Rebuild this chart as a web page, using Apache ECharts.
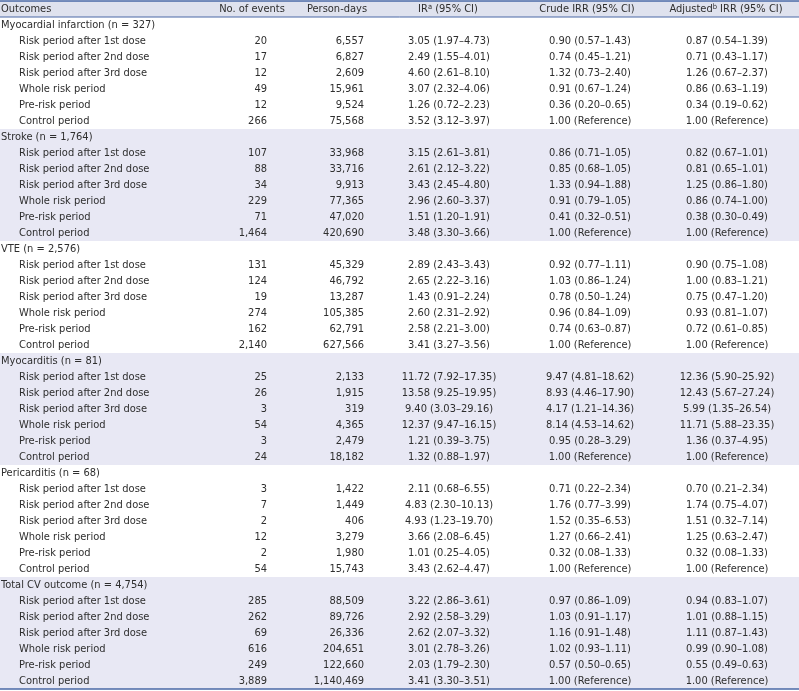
<!DOCTYPE html>
<html><head><meta charset="utf-8">
<script src="https://cdn.jsdelivr.net/npm/echarts@6/dist/echarts.min.js"></script>
<style>html,body{margin:0;padding:0;background:#fff}#c{width:799px;height:691px}</style>
</head><body><div id="c"></div>
<script>
const headers = ['Outcomes', 'No. of events', 'Person-days', 'IR{sup|a} (95% CI)', 'Crude IRR (95% CI)', 'Adjusted{sup|b} IRR (95% CI)'];
const outcomes = ['Myocardial infarction (n = 327)', 'Stroke (n = 1,764)', 'VTE (n = 2,576)', 'Myocarditis (n = 81)', 'Pericarditis (n = 68)', 'Total CV outcome (n = 4,754)'];
const periods = ['Risk period after 1st dose', 'Risk period after 2nd dose', 'Risk period after 3rd dose', 'Whole risk period', 'Pre-risk period', 'Control period'];
const events = [
  ['20', '17', '12', '49', '12', '266'],
  ['107', '88', '34', '229', '71', '1,464'],
  ['131', '124', '19', '274', '162', '2,140'],
  ['25', '26', '3', '54', '3', '24'],
  ['3', '7', '2', '12', '2', '54'],
  ['285', '262', '69', '616', '249', '3,889']
];
const personDays = [
  ['6,557', '6,827', '2,609', '15,961', '9,524', '75,568'],
  ['33,968', '33,716', '9,913', '77,365', '47,020', '420,690'],
  ['45,329', '46,792', '13,287', '105,385', '62,791', '627,566'],
  ['2,133', '1,915', '319', '4,365', '2,479', '18,182'],
  ['1,422', '1,449', '406', '3,279', '1,980', '15,743'],
  ['88,509', '89,726', '26,336', '204,651', '122,660', '1,140,469']
];
const irCI = [
  ['3.05 (1.97–4.73)', '2.49 (1.55–4.01)', '4.60 (2.61–8.10)', '3.07 (2.32–4.06)', '1.26 (0.72–2.23)', '3.52 (3.12–3.97)'],
  ['3.15 (2.61–3.81)', '2.61 (2.12–3.22)', '3.43 (2.45–4.80)', '2.96 (2.60–3.37)', '1.51 (1.20–1.91)', '3.48 (3.30–3.66)'],
  ['2.89 (2.43–3.43)', '2.65 (2.22–3.16)', '1.43 (0.91–2.24)', '2.60 (2.31–2.92)', '2.58 (2.21–3.00)', '3.41 (3.27–3.56)'],
  ['11.72 (7.92–17.35)', '13.58 (9.25–19.95)', '9.40 (3.03–29.16)', '12.37 (9.47–16.15)', '1.21 (0.39–3.75)', '1.32 (0.88–1.97)'],
  ['2.11 (0.68–6.55)', '4.83 (2.30–10.13)', '4.93 (1.23–19.70)', '3.66 (2.08–6.45)', '1.01 (0.25–4.05)', '3.43 (2.62–4.47)'],
  ['3.22 (2.86–3.61)', '2.92 (2.58–3.29)', '2.62 (2.07–3.32)', '3.01 (2.78–3.26)', '2.03 (1.79–2.30)', '3.41 (3.30–3.51)']
];
const crudeCI = [
  ['0.90 (0.57–1.43)', '0.74 (0.45–1.21)', '1.32 (0.73–2.40)', '0.91 (0.67–1.24)', '0.36 (0.20–0.65)', '1.00 (Reference)'],
  ['0.86 (0.71–1.05)', '0.85 (0.68–1.05)', '1.33 (0.94–1.88)', '0.91 (0.79–1.05)', '0.41 (0.32–0.51)', '1.00 (Reference)'],
  ['0.92 (0.77–1.11)', '1.03 (0.86–1.24)', '0.78 (0.50–1.24)', '0.96 (0.84–1.09)', '0.74 (0.63–0.87)', '1.00 (Reference)'],
  ['9.47 (4.81–18.62)', '8.93 (4.46–17.90)', '4.17 (1.21–14.36)', '8.14 (4.53–14.62)', '0.95 (0.28–3.29)', '1.00 (Reference)'],
  ['0.71 (0.22–2.34)', '1.76 (0.77–3.99)', '1.52 (0.35–6.53)', '1.27 (0.66–2.41)', '0.32 (0.08–1.33)', '1.00 (Reference)'],
  ['0.97 (0.86–1.09)', '1.03 (0.91–1.17)', '1.16 (0.91–1.48)', '1.02 (0.93–1.11)', '0.57 (0.50–0.65)', '1.00 (Reference)']
];
const adjustedCI = [
  ['0.87 (0.54–1.39)', '0.71 (0.43–1.17)', '1.26 (0.67–2.37)', '0.86 (0.63–1.19)', '0.34 (0.19–0.62)', '1.00 (Reference)'],
  ['0.82 (0.67–1.01)', '0.81 (0.65–1.01)', '1.25 (0.86–1.80)', '0.86 (0.74–1.00)', '0.38 (0.30–0.49)', '1.00 (Reference)'],
  ['0.90 (0.75–1.08)', '1.00 (0.83–1.21)', '0.75 (0.47–1.20)', '0.93 (0.81–1.07)', '0.72 (0.61–0.85)', '1.00 (Reference)'],
  ['12.36 (5.90–25.92)', '12.43 (5.67–27.24)', '5.99 (1.35–26.54)', '11.71 (5.88–23.35)', '1.36 (0.37–4.95)', '1.00 (Reference)'],
  ['0.70 (0.21–2.34)', '1.74 (0.75–4.07)', '1.51 (0.32–7.14)', '1.25 (0.63–2.47)', '0.32 (0.08–1.33)', '1.00 (Reference)'],
  ['0.94 (0.83–1.07)', '1.01 (0.88–1.15)', '1.11 (0.87–1.43)', '0.99 (0.90–1.08)', '0.55 (0.49–0.63)', '1.00 (Reference)']
];
const shadedGroups = [1, 3, 5];

// ---- font choice: DejaVu Sans Condensed if installed, else DejaVu Sans squeezed ----
const probe = document.createElement('canvas').getContext('2d');
probe.font = '20px "DejaVu Sans Condensed", monospace';
const wCond = probe.measureText('Risk period abc').width;
probe.font = '20px monospace';
const wMono = probe.measureText('Risk period abc').width;
const hasCond = Math.abs(wCond - wMono) > 0.5;
const FAMILY = hasCond ? '"DejaVu Sans Condensed"' : '"DejaVu Sans"';
const SCALE_X = hasCond ? 1 : 0.9;

// ---- layout (styles / positions only) ----
const W = 799;
const FONT = '11px ' + FAMILY;
const TEXT = '#2e2e2e';
const LINE = '#4a68a6';
const HEAD_BG = '#dfe2ee';
const BAND_BG = '#e8e8f4';
const colLayout = [
  { x: 1, align: 'left', headX: 1, headAlign: 'left' },
  { x: 267, align: 'right', headX: 252, headAlign: 'center' },
  { x: 364, align: 'right', headX: 337, headAlign: 'center' },
  { x: 449, align: 'center', headX: 448, headAlign: 'center' },
  { x: 590, align: 'center', headX: 587, headAlign: 'center' },
  { x: 727, align: 'center', headX: 726, headAlign: 'center' }
];
const INDENT = 18;

// ---- build cells ----
const cells = [];
const rowCats = ['h'];
const rowBg = [{ value: W, itemStyle: { color: HEAD_BG } }];
headers.forEach((t, c) => cells.push({ value: [c, 0], text: t, kind: 'head' }));
let row = 1;
outcomes.forEach((name, g) => {
  const shaded = shadedGroups.includes(g);
  rowCats.push('g' + g);
  rowBg.push(shaded ? { value: W, itemStyle: { color: BAND_BG } } : '-');
  cells.push({ value: [0, row], text: name, kind: 'group' });
  row++;
  periods.forEach((p, i) => {
    rowCats.push('g' + g + 'p' + i);
    rowBg.push(shaded ? { value: W, itemStyle: { color: BAND_BG } } : '-');
    cells.push({ value: [0, row], text: p, kind: 'period' });
    cells.push({ value: [1, row], text: events[g][i], kind: 'cell' });
    cells.push({ value: [2, row], text: personDays[g][i], kind: 'cell' });
    cells.push({ value: [3, row], text: irCI[g][i], kind: 'cell' });
    cells.push({ value: [4, row], text: crudeCI[g][i], kind: 'cell' });
    cells.push({ value: [5, row], text: adjustedCI[g][i], kind: 'cell' });
    row++;
  });
});
const nRows = rowCats.length;
const rules = [
  { value: [0, 0], edge: -1, w: 1.5 },
  { value: [0, 0], edge: 1, w: 1 },
  { value: [0, nRows - 1], edge: 1, w: 1.5 }
];

const chart = echarts.init(document.getElementById('c'), null, { renderer: 'canvas' });
chart.setOption({
  animation: false,
  grid: { left: 0, right: 0, top: 1, bottom: 2 },
  xAxis: { type: 'value', min: 0, max: W, show: false },
  yAxis: { type: 'category', data: rowCats, inverse: true, show: false, boundaryGap: true },
  series: [
    {
      type: 'bar', data: rowBg, barWidth: '100%', silent: true, z: 1
    },
    {
      type: 'custom', data: cells, z: 3, silent: true,
      renderItem: function (params, api) {
        const cell = cells[params.dataIndex];
        const col = api.value(0), r = api.value(1);
        const L = colLayout[col];
        let x = cell.kind === 'head' ? L.headX : L.x;
        if (cell.kind === 'period') x += INDENT;
        const pt = api.coord([x, r]);
        return {
          type: 'text',
          x: pt[0], y: pt[1] + 0.5,
          scaleX: SCALE_X,
          style: {
            text: cell.text,
            align: cell.kind === 'head' ? L.headAlign : L.align,
            verticalAlign: 'middle',
            font: FONT,
            fill: TEXT,
            rich: { sup: { fontSize: 7.5, fontFamily: FAMILY.replace(/"/g, ''), fill: TEXT, verticalAlign: 'top', padding: [0, 0, 5, 0] } }
          }
        };
      }
    },
    {
      type: 'custom', data: rules, z: 4, silent: true,
      renderItem: function (params, api) {
        const rl = rules[params.dataIndex];
        const c = api.coord([0, api.value(1)]);
        const h = api.size([0, 1])[1];
        const y = c[1] + rl.edge * h / 2;
        return { type: 'line', shape: { x1: 0, y1: y, x2: W, y2: y }, style: { stroke: LINE, lineWidth: rl.w } };
      }
    }
  ]
});
</script></body></html>
